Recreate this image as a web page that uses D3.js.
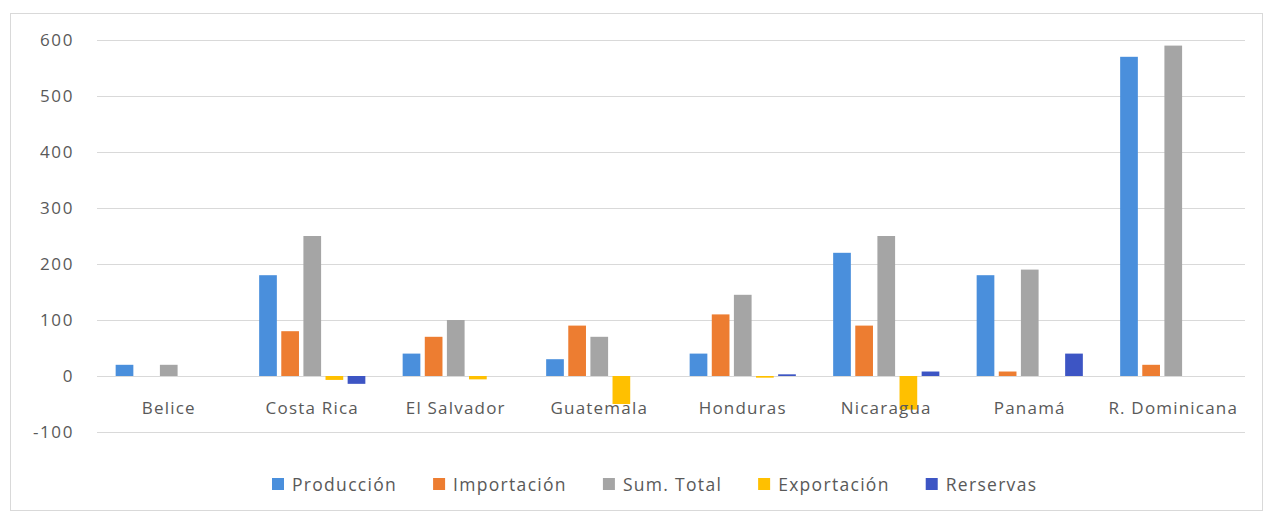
<!DOCTYPE html>
<html>
<head>
<meta charset="utf-8">
<script src="https://cdn.jsdelivr.net/npm/d3@7"></script>
<style>
  html, body { margin: 0; padding: 0; background: #fff; }
  svg { display: block; }
  text { font-family: "Open Sans", sans-serif; fill: #595959; }
</style>
</head>
<body>
<svg id="chart" width="1268" height="514"></svg>
<script>
const categories = ["Belice", "Costa Rica", "El Salvador", "Guatemala", "Honduras", "Nicaragua", "Panamá", "R. Dominicana"];
const seriesNames = ["Producción", "Importación", "Sum. Total", "Exportación", "Rerservas"];
const produccion  = [20, 180, 40, 30, 40, 220, 180, 570];
const importacion = [0, 80, 70, 90, 110, 90, 8, 20];
const sumTotal    = [20, 250, 100, 70, 145, 250, 190, 590];
const exportacion = [0, -7, -6, -50, -3, -60, 0, 0];
const reservas    = [0, -14, 0, 0, 3, 8, 40, 0];
const yTicks = [-100, 0, 100, 200, 300, 400, 500, 600];
const colors = ["#4a8fdc", "#ed7d31", "#a5a5a5", "#ffc000", "#3d55c4"];

const seriesValues = [produccion, importacion, sumTotal, exportacion, reservas];

const svg = d3.select("#chart");

// chart border
svg.append("rect").attr("x", 10.5).attr("y", 13.5).attr("width", 1252).attr("height", 497)
  .attr("fill", "none").attr("stroke", "#d9d9d9").attr("stroke-width", 1);

const left = 97, right = 1245;
const y = d3.scaleLinear().domain([-100, 600]).range([432, 40]);
const x0 = d3.scaleBand().domain(categories).range([left, right]).paddingInner(0.26).paddingOuter(0.13);
const x1 = d3.scaleBand().domain(seriesNames).range([0, x0.bandwidth()]).paddingInner(0.2).paddingOuter(0);

// gridlines
svg.append("g").selectAll("line").data(yTicks).join("line")
  .attr("x1", left).attr("x2", right)
  .attr("y1", d => Math.round(y(d)) + 0.5).attr("y2", d => Math.round(y(d)) + 0.5)
  .attr("stroke", "#d9d9d9").attr("stroke-width", 1.2);

// y tick labels
svg.append("g").selectAll("text").data(yTicks).join("text")
  .attr("x", 74).attr("y", d => y(d) + 6)
  .attr("text-anchor", "end")
  .attr("font-size", 17).attr("letter-spacing", 1.6)
  .text(d => d);

// bars
const groups = svg.append("g").selectAll("g").data(categories).join("g")
  .attr("transform", d => `translate(${x0(d)},0)`);
groups.selectAll("rect").data((c, ci) => seriesNames.map((s, si) => ({ s, si, v: seriesValues[si][ci] })))
  .join("rect")
  .attr("x", d => x1(d.s))
  .attr("width", x1.bandwidth())
  .attr("y", d => y(Math.max(0, d.v)))
  .attr("height", d => Math.abs(y(d.v) - y(0)))
  .attr("fill", d => colors[d.si]);

// category labels
svg.append("g").selectAll("text").data(categories).join("text")
  .attr("x", d => x0(d) + x0.bandwidth() / 2).attr("y", 414)
  .attr("text-anchor", "middle")
  .attr("font-size", 17).attr("letter-spacing", 1.2)
  .text(d => d);

// legend
const legend = svg.append("g");
let lx = 272;
seriesNames.forEach((s, i) => {
  legend.append("rect").attr("x", lx).attr("y", 478).attr("width", 12).attr("height", 12).attr("fill", colors[i]);
  const t = legend.append("text").attr("x", lx + 20).attr("y", 491)
    .attr("font-size", 17.5).attr("letter-spacing", 1.3).text(s);
  lx += 20 + t.node().getComputedTextLength() + 36;
});
</script>
</body>
</html>
